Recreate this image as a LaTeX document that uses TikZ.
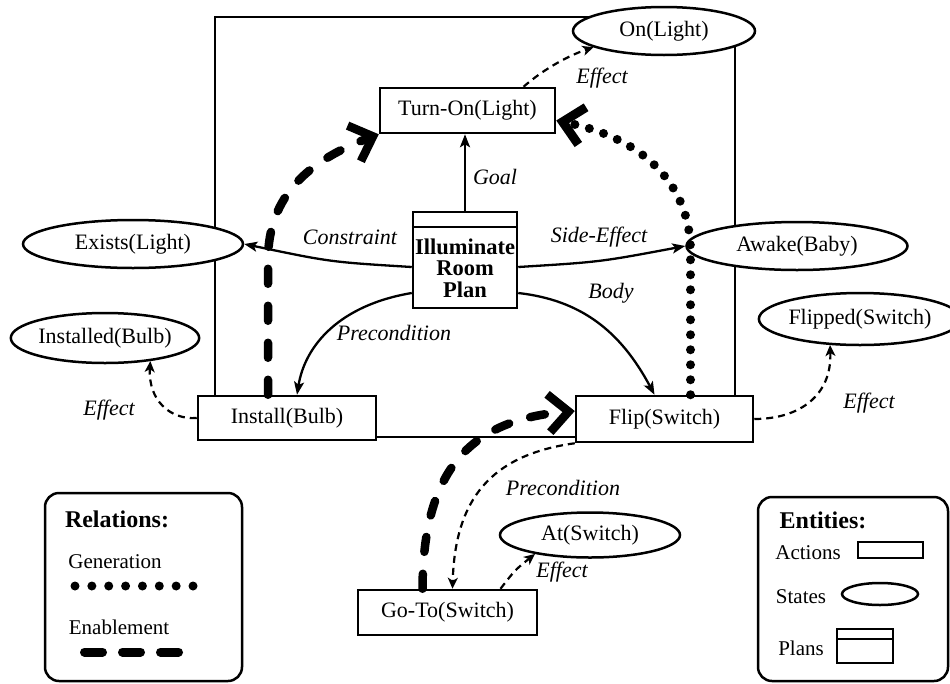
\documentclass[tikz,border=0pt]{standalone}
\usepackage{fontspec}
\setmainfont{Liberation Serif}
\usetikzlibrary{arrows.meta,shapes.geometric}
\tikzset{
  box/.style={draw, line width=2.5pt, fill=white, inner sep=0pt, font=\fontsize{22}{26}\selectfont},
  stat/.style={draw, ellipse, line width=2.5pt, fill=white, inner sep=0pt, font=\fontsize{22}{26}\selectfont},
  lbl/.style={font=\itshape\fontsize{22}{26}\selectfont, inner sep=0pt},
  rel/.style={line width=2.3pt, -{Stealth[length=13pt,width=10pt,inset=3pt]}},
  eff/.style={line width=2.2pt, dash pattern=on 7pt off 5pt, -{Stealth[length=11pt,width=10pt,inset=3pt]}},
  gen/.style={line width=9pt, line cap=round, dash pattern=on 0pt off 15pt, -{Straight Barb[length=20pt,width=38pt]}},
  enab/.style={line width=8.5pt, line cap=round, dash pattern=on 15pt off 22pt, -{Straight Barb[length=20pt,width=38pt]}},
  leg/.style={font=\fontsize{21}{24}\selectfont, inner sep=0pt},
  legh/.style={font=\bfseries\fontsize{24}{28}\selectfont, inner sep=0pt},
  frame/.style={draw, line width=2.5pt, rounded corners=14pt},
}
\begin{document}
\begin{tikzpicture}[x=1pt,y=-1pt]
\useasboundingbox (0,0) rectangle (950,683);
% big frame
\draw[line width=2.5pt] (215,17) rectangle (735,437);

% entities
\node[box, minimum width=175pt, minimum height=45pt] (turnon) at (467.5,110.5) {Turn-On(Light)};
\node[stat, minimum width=182pt, minimum height=48pt] (onl) at (664,31) {On(Light)};
\node[box, minimum width=104pt, minimum height=96pt] (plan) at (465,260) {};
\draw[line width=2.5pt] ([yshift=-16pt]plan.north west) -- ([yshift=-16pt]plan.north east);
\node[font=\bfseries\fontsize{22.5}{21.5}\selectfont, align=center, inner sep=0pt] (plantext) at (465,268) {Illuminate\\Room\\Plan};
\node[stat, minimum width=220pt, minimum height=48pt] (exists) at (133,244) {Exists(Light)};
\node[stat, minimum width=221pt, minimum height=48pt] (awake) at (797,246) {Awake(Baby)};
\node[stat, minimum width=186pt, minimum height=50pt] (installed) at (105,338) {Installed(Bulb)};
\node[stat, minimum width=180pt, minimum height=52pt] (flipped) at (860,319) {Flipped(Switch)};
\node[box, minimum width=178pt, minimum height=44pt] (inst) at (287,418) {Install(Bulb)};
\node[box, minimum width=177pt, minimum height=46pt] (flip) at (664.5,419) {Flip(Switch)};
\node[box, minimum width=179pt, minimum height=45pt] (goto) at (447.5,612.5) {Go-To(Switch)};
\node[stat, minimum width=180pt, minimum height=45pt] (at) at (590,535) {At(Switch)};

% relations
\draw[rel] (plan.north) -- (plan.north |- turnon.south);
\draw[rel] ([yshift=-7pt]plan.west) .. controls (330,262) .. (exists.east);
\draw[rel] ([yshift=-7pt]plan.east) .. controls (600,262) .. (awake.west);
\draw[rel] ([yshift=-33pt]plan.west) .. controls (340,305) and (305,345) .. ([xshift=10pt]inst.north);
\draw[rel] ([yshift=-33pt]plan.east) .. controls (580,300) and (620,330) .. ([xshift=-10pt]flip.north);

\draw[eff] ([xshift=56pt]turnon.north) .. controls (545,68) and (570,55) .. (onl.193);
\draw[eff] (inst.west) .. controls (170,420) and (148,400) .. (installed.333);
\draw[eff] (flip.east) .. controls (800,419) and (832,395) .. (flipped.221);
\draw[eff] ([xshift=53pt]goto.north) .. controls (515,570) .. (at.199);
\draw[eff] (flip.south west) .. controls (490,455) and (455,500) .. ([xshift=5pt]goto.north);

\draw[enab] ([xshift=-19pt]inst.north) -- (268,260) .. controls (268,195) and (310,160) .. (turnon.south west);
\draw[enab] ([xshift=-25pt]goto.north) .. controls (423,470) and (470,420) .. ([yshift=8pt]flip.west);
\draw[gen] ([xshift=26pt]flip.north) -- (690.5,250) .. controls (690,190) and (650,140) .. ([yshift=-10pt]turnon.east);

% labels
\node[lbl] (leffon) at (602,78) {Effect};
\node[lbl] (lgoal) at (495,177) {Goal};
\node[lbl] (lcons) at (350,237) {Constraint};
\node[lbl] (lside) at (599,237) {Side-Effect};
\node[lbl] (lbody) at (611,293) {Body};
\node[lbl] (lpre1) at (394,333) {Precondition};
\node[lbl] (leffin) at (109,410) {Effect};
\node[lbl] (lefffl) at (869,403) {Effect};
\node[lbl] (lpre2) at (563,488) {Precondition};
\node[lbl] (leffat) at (562,572) {Effect};

% legend: relations
\draw[frame] (45,493) rectangle (242,681);
\node[legh] (relh) at (117,519) {Relations:};
\node[leg] (gentxt) at (115,562) {Generation};
\draw[line width=9pt, line cap=round, dash pattern=on 0pt off 16.86pt] (75,586) -- (193.1,586);
\node[leg] (enabtxt) at (119,627) {Enablement};
\draw[line width=9pt, line cap=round, dash pattern=on 18pt off 20pt] (84.5,652) -- (178.5,652);

% legend: entities
\draw[frame] (758,497) rectangle (948,681);
\node[legh] (enth) at (823,520) {Entities:};
\node[leg] (acttxt) at (808,553) {Actions};
\node[draw, line width=2.5pt, minimum width=65pt, minimum height=16pt, inner sep=0pt] (actbox) at (890.5,550) {};
\node[leg] (sttxt) at (801,597) {States};
\node[draw, ellipse, line width=2.5pt, minimum width=76pt, minimum height=22pt, inner sep=0pt] (stell) at (880,594) {};
\node[leg] (pltxt) at (801,648) {Plans};
\node[draw, line width=2.5pt, minimum width=56pt, minimum height=34pt, inner sep=0pt] (plbox) at (865,646) {};
\draw[line width=2.3pt] ([yshift=-11pt]plbox.north west) -- ([yshift=-11pt]plbox.north east);
\end{tikzpicture}
\end{document}
